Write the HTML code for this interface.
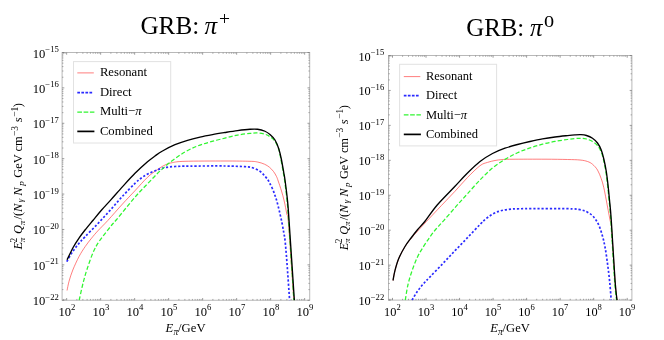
<!DOCTYPE html>
<html><head><meta charset="utf-8"><title>GRB pion spectra</title>
<style>html,body{margin:0;padding:0;background:#fff}body{width:664px;height:340px;overflow:hidden}svg{display:block;will-change:transform}text{font-family:"Liberation Serif",serif;fill:#000}</style></head><body>
<svg width="664" height="340" viewBox="0 0 664 340">
<rect width="664" height="340" fill="#fff"/>
<text x="140.4" y="33.9" font-size="25.2">GRB:</text>
<text x="204.6" y="33.9" font-size="25.2" font-style="italic">π</text>
<text x="224.4" y="25.2" font-size="19.5" text-anchor="middle">+</text>
<text x="466.2" y="35.8" font-size="24.9">GRB:</text>
<text x="530.1" y="35.8" font-size="24.9" font-style="italic">π</text>
<text transform="translate(549,27) scale(1.25,1)" font-size="16.2" text-anchor="middle">0</text>
<rect x="62.10" y="52.50" width="247.60" height="247.75" fill="none" stroke="#b8b8b8" stroke-width="1"/>
<path d="M62.10,52.50h2.2M309.70,52.50h-2.2M62.10,87.89h2.2M309.70,87.89h-2.2M62.10,123.29h2.2M309.70,123.29h-2.2M62.10,158.68h2.2M309.70,158.68h-2.2M62.10,194.07h2.2M309.70,194.07h-2.2M62.10,229.46h2.2M309.70,229.46h-2.2M62.10,264.86h2.2M309.70,264.86h-2.2M62.10,300.25h2.2M309.70,300.25h-2.2M66.65,300.25v-2.2M66.65,52.50v2.2M100.65,300.25v-2.2M100.65,52.50v2.2M134.65,300.25v-2.2M134.65,52.50v2.2M168.65,300.25v-2.2M168.65,52.50v2.2M202.65,300.25v-2.2M202.65,52.50v2.2M236.65,300.25v-2.2M236.65,52.50v2.2M270.65,300.25v-2.2M270.65,52.50v2.2M304.65,300.25v-2.2M304.65,52.50v2.2" stroke="#707070" stroke-width="0.7" fill="none"/>
<path d="M62.10,77.24h1.3M309.70,77.24h-1.3M62.10,71.01h1.3M309.70,71.01h-1.3M62.10,66.58h1.3M309.70,66.58h-1.3M62.10,63.15h1.3M309.70,63.15h-1.3M62.10,60.35h1.3M309.70,60.35h-1.3M62.10,57.98h1.3M309.70,57.98h-1.3M62.10,55.93h1.3M309.70,55.93h-1.3M62.10,54.12h1.3M309.70,54.12h-1.3M62.10,112.63h1.3M309.70,112.63h-1.3M62.10,106.40h1.3M309.70,106.40h-1.3M62.10,101.98h1.3M309.70,101.98h-1.3M62.10,98.55h1.3M309.70,98.55h-1.3M62.10,95.74h1.3M309.70,95.74h-1.3M62.10,93.38h1.3M309.70,93.38h-1.3M62.10,91.32h1.3M309.70,91.32h-1.3M62.10,89.51h1.3M309.70,89.51h-1.3M62.10,148.02h1.3M309.70,148.02h-1.3M62.10,141.79h1.3M309.70,141.79h-1.3M62.10,137.37h1.3M309.70,137.37h-1.3M62.10,133.94h1.3M309.70,133.94h-1.3M62.10,131.14h1.3M309.70,131.14h-1.3M62.10,128.77h1.3M309.70,128.77h-1.3M62.10,126.72h1.3M309.70,126.72h-1.3M62.10,124.91h1.3M309.70,124.91h-1.3M62.10,183.42h1.3M309.70,183.42h-1.3M62.10,177.18h1.3M309.70,177.18h-1.3M62.10,172.76h1.3M309.70,172.76h-1.3M62.10,169.33h1.3M309.70,169.33h-1.3M62.10,166.53h1.3M309.70,166.53h-1.3M62.10,164.16h1.3M309.70,164.16h-1.3M62.10,162.11h1.3M309.70,162.11h-1.3M62.10,160.30h1.3M309.70,160.30h-1.3M62.10,218.81h1.3M309.70,218.81h-1.3M62.10,212.58h1.3M309.70,212.58h-1.3M62.10,208.16h1.3M309.70,208.16h-1.3M62.10,204.73h1.3M309.70,204.73h-1.3M62.10,201.92h1.3M309.70,201.92h-1.3M62.10,199.55h1.3M309.70,199.55h-1.3M62.10,197.50h1.3M309.70,197.50h-1.3M62.10,195.69h1.3M309.70,195.69h-1.3M62.10,254.20h1.3M309.70,254.20h-1.3M62.10,247.97h1.3M309.70,247.97h-1.3M62.10,243.55h1.3M309.70,243.55h-1.3M62.10,240.12h1.3M309.70,240.12h-1.3M62.10,237.32h1.3M309.70,237.32h-1.3M62.10,234.95h1.3M309.70,234.95h-1.3M62.10,232.89h1.3M309.70,232.89h-1.3M62.10,231.08h1.3M309.70,231.08h-1.3M62.10,289.60h1.3M309.70,289.60h-1.3M62.10,283.36h1.3M309.70,283.36h-1.3M62.10,278.94h1.3M309.70,278.94h-1.3M62.10,275.51h1.3M309.70,275.51h-1.3M62.10,272.71h1.3M309.70,272.71h-1.3M62.10,270.34h1.3M309.70,270.34h-1.3M62.10,268.29h1.3M309.70,268.29h-1.3M62.10,266.48h1.3M309.70,266.48h-1.3M63.36,300.25v-1.3M63.36,52.50v1.3M65.09,300.25v-1.3M65.09,52.50v1.3M76.89,300.25v-1.3M76.89,52.50v1.3M82.87,300.25v-1.3M82.87,52.50v1.3M87.12,300.25v-1.3M87.12,52.50v1.3M90.41,300.25v-1.3M90.41,52.50v1.3M93.11,300.25v-1.3M93.11,52.50v1.3M95.38,300.25v-1.3M95.38,52.50v1.3M97.36,300.25v-1.3M97.36,52.50v1.3M99.09,300.25v-1.3M99.09,52.50v1.3M110.89,300.25v-1.3M110.89,52.50v1.3M116.87,300.25v-1.3M116.87,52.50v1.3M121.12,300.25v-1.3M121.12,52.50v1.3M124.41,300.25v-1.3M124.41,52.50v1.3M127.11,300.25v-1.3M127.11,52.50v1.3M129.38,300.25v-1.3M129.38,52.50v1.3M131.36,300.25v-1.3M131.36,52.50v1.3M133.09,300.25v-1.3M133.09,52.50v1.3M144.89,300.25v-1.3M144.89,52.50v1.3M150.87,300.25v-1.3M150.87,52.50v1.3M155.12,300.25v-1.3M155.12,52.50v1.3M158.41,300.25v-1.3M158.41,52.50v1.3M161.11,300.25v-1.3M161.11,52.50v1.3M163.38,300.25v-1.3M163.38,52.50v1.3M165.36,300.25v-1.3M165.36,52.50v1.3M167.09,300.25v-1.3M167.09,52.50v1.3M178.89,300.25v-1.3M178.89,52.50v1.3M184.87,300.25v-1.3M184.87,52.50v1.3M189.12,300.25v-1.3M189.12,52.50v1.3M192.41,300.25v-1.3M192.41,52.50v1.3M195.11,300.25v-1.3M195.11,52.50v1.3M197.38,300.25v-1.3M197.38,52.50v1.3M199.36,300.25v-1.3M199.36,52.50v1.3M201.09,300.25v-1.3M201.09,52.50v1.3M212.89,300.25v-1.3M212.89,52.50v1.3M218.87,300.25v-1.3M218.87,52.50v1.3M223.12,300.25v-1.3M223.12,52.50v1.3M226.41,300.25v-1.3M226.41,52.50v1.3M229.11,300.25v-1.3M229.11,52.50v1.3M231.38,300.25v-1.3M231.38,52.50v1.3M233.36,300.25v-1.3M233.36,52.50v1.3M235.09,300.25v-1.3M235.09,52.50v1.3M246.89,300.25v-1.3M246.89,52.50v1.3M252.87,300.25v-1.3M252.87,52.50v1.3M257.12,300.25v-1.3M257.12,52.50v1.3M260.41,300.25v-1.3M260.41,52.50v1.3M263.11,300.25v-1.3M263.11,52.50v1.3M265.38,300.25v-1.3M265.38,52.50v1.3M267.36,300.25v-1.3M267.36,52.50v1.3M269.09,300.25v-1.3M269.09,52.50v1.3M280.89,300.25v-1.3M280.89,52.50v1.3M286.87,300.25v-1.3M286.87,52.50v1.3M291.12,300.25v-1.3M291.12,52.50v1.3M294.41,300.25v-1.3M294.41,52.50v1.3M297.11,300.25v-1.3M297.11,52.50v1.3M299.38,300.25v-1.3M299.38,52.50v1.3M301.36,300.25v-1.3M301.36,52.50v1.3M303.09,300.25v-1.3M303.09,52.50v1.3" stroke="#707070" stroke-width="0.6" fill="none"/>
<rect x="73.50" y="61.60" width="97.20" height="81.40" fill="#fff" stroke="#e2e2e2" stroke-width="1"/>
<line x1="77.30" y1="72.90" x2="93.80" y2="72.90" stroke="#ff4646" stroke-width="0.7"/>
<text x="99.90" y="76.10" font-size="12.70">Resonant</text>
<line x1="77.30" y1="92.60" x2="92.20" y2="92.60" stroke="#2a2aff" stroke-width="1.7" stroke-dasharray="2.7 1.35"/>
<text x="99.90" y="95.80" font-size="12.70">Direct</text>
<line x1="77.30" y1="112.10" x2="94.40" y2="112.10" stroke="#30f530" stroke-width="1.4" stroke-dasharray="4.7 1.6"/>
<text x="99.90" y="115.30" font-size="12.70">Multi−<tspan font-style='italic'>π</tspan></text>
<line x1="77.30" y1="131.40" x2="94.40" y2="131.40" stroke="#000" stroke-width="1.7"/>
<text x="99.90" y="134.60" font-size="12.70">Combined</text>
<clipPath id="cl"><rect x="62.10" y="52.50" width="247.60" height="248.05"/></clipPath>
<g clip-path="url(#cl)" fill="none" stroke-linejoin="round">
<path d="M67.05,290.50 C67.38,288.96 68.09,284.67 69.05,281.25 C70.01,277.83 71.13,274.12 72.80,270.00 C74.47,265.88 76.97,260.43 79.05,256.50 C81.13,252.57 83.22,249.45 85.30,246.40 C87.38,243.35 89.47,240.78 91.55,238.20 C93.63,235.62 95.09,233.85 97.80,230.90 C100.51,227.95 103.68,224.98 107.80,220.50 C111.92,216.02 117.97,208.97 122.50,204.00 C127.03,199.03 130.83,195.15 135.00,190.70 C139.17,186.25 143.75,180.83 147.50,177.30 C151.25,173.77 154.58,171.55 157.50,169.50 C160.42,167.45 162.50,166.15 165.00,165.00 C167.50,163.85 169.17,163.22 172.50,162.60 C175.83,161.98 176.25,161.57 185.00,161.30 C193.75,161.03 214.17,161.00 225.00,161.00 C235.83,161.00 244.58,161.13 250.00,161.30 C255.42,161.47 255.08,161.52 257.50,162.00 C259.92,162.48 262.50,163.32 264.50,164.20 C266.50,165.08 268.00,166.08 269.50,167.30 C271.00,168.52 272.33,169.97 273.50,171.50 C274.67,173.03 275.72,174.92 276.50,176.50 C277.28,178.08 277.37,178.58 278.20,181.00 C279.03,183.42 280.50,187.67 281.50,191.00 C282.50,194.33 283.32,197.17 284.20,201.00 C285.08,204.83 286.08,210.17 286.80,214.00 C287.52,217.83 287.33,209.62 288.50,224.00 C289.67,238.38 292.92,287.54 293.80,300.25" stroke="#ff4646" stroke-width="0.7"/>
<path d="M66.75,261.60 C67.71,259.98 70.50,254.90 72.50,251.90 C74.50,248.90 76.67,246.12 78.75,243.60 C80.83,241.08 81.88,240.07 85.00,236.80 C88.12,233.53 93.33,228.40 97.50,224.00 C101.67,219.60 105.83,215.03 110.00,210.40 C114.17,205.78 118.33,200.77 122.50,196.25 C126.67,191.73 131.75,186.43 135.00,183.30 C138.25,180.18 139.71,179.13 142.00,177.50 C144.29,175.87 146.17,174.78 148.75,173.50 C151.33,172.22 154.79,170.78 157.50,169.80 C160.21,168.82 162.08,168.15 165.00,167.60 C167.92,167.05 170.83,166.75 175.00,166.50 C179.17,166.25 181.67,166.18 190.00,166.10 C198.33,166.02 215.83,165.90 225.00,166.00 C234.17,166.10 240.42,166.41 245.00,166.70 C249.58,166.99 250.00,166.99 252.50,167.75 C255.00,168.51 257.92,169.83 260.00,171.25 C262.08,172.67 263.67,174.79 265.00,176.25 C266.33,177.71 267.17,178.75 268.00,180.00 C268.83,181.25 269.17,182.08 270.00,183.75 C270.83,185.42 272.17,188.04 273.00,190.00 C273.83,191.96 274.35,193.62 275.00,195.50 C275.65,197.38 276.17,198.67 276.90,201.30 C277.63,203.93 278.57,207.77 279.40,211.30 C280.23,214.83 281.17,218.97 281.90,222.50 C282.62,226.03 283.22,229.42 283.75,232.50 C284.28,235.58 284.58,236.08 285.10,241.00 C285.62,245.92 286.15,252.12 286.90,262.00 C287.65,271.88 289.15,293.88 289.60,300.25" stroke="#2a2aff" stroke-width="1.7" stroke-dasharray="2.2 1.9"/>
<path d="M79.20,300.25 C79.32,299.71 79.23,299.96 79.90,297.00 C80.57,294.04 81.98,287.21 83.20,282.50 C84.42,277.79 85.55,273.75 87.20,268.75 C88.85,263.75 91.08,257.08 93.10,252.50 C95.12,247.92 96.25,245.75 99.30,241.25 C102.35,236.75 108.58,229.04 111.40,225.50 C114.22,221.96 112.22,224.78 116.20,220.00 C120.18,215.22 130.03,202.88 135.30,196.80 C140.57,190.72 143.68,187.80 147.80,183.50 C151.92,179.20 155.88,174.83 160.00,171.00 C164.12,167.17 168.33,163.67 172.50,160.50 C176.67,157.33 180.83,154.42 185.00,152.00 C189.17,149.58 193.33,147.67 197.50,146.00 C201.67,144.33 205.42,143.32 210.00,142.00 C214.58,140.68 220.42,139.25 225.00,138.10 C229.58,136.95 233.33,135.88 237.50,135.10 C241.67,134.32 246.67,133.75 250.00,133.40 C253.33,133.05 255.00,132.86 257.50,133.00 C260.00,133.14 262.92,133.62 265.00,134.25 C267.08,134.88 268.33,135.58 270.00,136.75 C271.67,137.92 273.54,139.21 275.00,141.25 C276.46,143.29 277.78,146.08 278.75,149.00 C279.72,151.92 280.04,154.83 280.80,158.75 C281.56,162.67 282.68,168.96 283.30,172.50 C283.93,176.04 283.93,175.42 284.55,180.00 C285.17,184.58 286.33,193.33 287.00,200.00 C287.67,206.67 287.40,203.29 288.55,220.00 C289.70,236.71 293.01,286.88 293.90,300.25" stroke="#30f530" stroke-width="1.25" stroke-dasharray="4.2 2.1"/>
<path d="M67.10,259.80 C68.10,257.75 71.06,251.20 73.10,247.50 C75.14,243.80 77.27,240.63 79.35,237.60 C81.43,234.57 83.31,232.20 85.60,229.30 C87.89,226.40 90.43,223.42 93.10,220.20 C95.77,216.98 98.68,213.35 101.60,210.00 C104.52,206.65 107.07,204.03 110.60,200.10 C114.13,196.17 118.73,190.87 122.80,186.40 C126.87,181.93 130.88,177.40 135.00,173.30 C139.12,169.20 144.17,164.68 147.50,161.80 C150.83,158.92 152.50,157.80 155.00,156.00 C157.50,154.20 159.17,152.88 162.50,151.00 C165.83,149.12 170.83,146.48 175.00,144.70 C179.17,142.92 183.33,141.57 187.50,140.30 C191.67,139.03 195.83,138.05 200.00,137.10 C204.17,136.15 208.33,135.37 212.50,134.60 C216.67,133.83 220.83,133.17 225.00,132.50 C229.17,131.83 233.33,131.14 237.50,130.60 C241.67,130.06 246.67,129.47 250.00,129.25 C253.33,129.03 255.00,128.92 257.50,129.25 C260.00,129.58 262.92,130.38 265.00,131.25 C267.08,132.12 268.33,133.04 270.00,134.50 C271.67,135.96 273.54,137.62 275.00,140.00 C276.46,142.38 277.71,145.62 278.75,148.75 C279.79,151.88 280.42,154.79 281.25,158.75 C282.08,162.71 283.12,168.96 283.75,172.50 C284.38,176.04 284.38,175.42 285.00,180.00 C285.62,184.58 286.78,193.33 287.45,200.00 C288.12,206.67 287.85,203.29 289.00,220.00 C290.15,236.71 293.46,286.88 294.35,300.25" stroke="#000" stroke-width="1.35"/>
</g>
<text x="58.90" y="57.50" font-size="12.60" text-anchor="end">10<tspan font-size="8.70" dy="-5.54">−15</tspan></text>
<text x="58.90" y="92.89" font-size="12.60" text-anchor="end">10<tspan font-size="8.70" dy="-5.54">−16</tspan></text>
<text x="58.90" y="128.29" font-size="12.60" text-anchor="end">10<tspan font-size="8.70" dy="-5.54">−17</tspan></text>
<text x="58.90" y="163.68" font-size="12.60" text-anchor="end">10<tspan font-size="8.70" dy="-5.54">−18</tspan></text>
<text x="58.90" y="199.07" font-size="12.60" text-anchor="end">10<tspan font-size="8.70" dy="-5.54">−19</tspan></text>
<text x="58.90" y="234.46" font-size="12.60" text-anchor="end">10<tspan font-size="8.70" dy="-5.54">−20</tspan></text>
<text x="58.90" y="269.86" font-size="12.60" text-anchor="end">10<tspan font-size="8.70" dy="-5.54">−21</tspan></text>
<text x="58.90" y="305.25" font-size="12.60" text-anchor="end">10<tspan font-size="8.70" dy="-5.54">−22</tspan></text>
<text x="66.95" y="316.00" font-size="12.60" text-anchor="middle">10<tspan font-size="8.70" dy="-5.54">2</tspan></text>
<text x="100.95" y="316.00" font-size="12.60" text-anchor="middle">10<tspan font-size="8.70" dy="-5.54">3</tspan></text>
<text x="134.95" y="316.00" font-size="12.60" text-anchor="middle">10<tspan font-size="8.70" dy="-5.54">4</tspan></text>
<text x="168.95" y="316.00" font-size="12.60" text-anchor="middle">10<tspan font-size="8.70" dy="-5.54">5</tspan></text>
<text x="202.95" y="316.00" font-size="12.60" text-anchor="middle">10<tspan font-size="8.70" dy="-5.54">6</tspan></text>
<text x="236.95" y="316.00" font-size="12.60" text-anchor="middle">10<tspan font-size="8.70" dy="-5.54">7</tspan></text>
<text x="270.95" y="316.00" font-size="12.60" text-anchor="middle">10<tspan font-size="8.70" dy="-5.54">8</tspan></text>
<text x="304.95" y="316.00" font-size="12.60" text-anchor="middle">10<tspan font-size="8.70" dy="-5.54">9</tspan></text>
<rect x="388.50" y="55.50" width="243.40" height="244.60" fill="none" stroke="#b8b8b8" stroke-width="1"/>
<path d="M388.50,55.50h2.2M631.90,55.50h-2.2M388.50,90.44h2.2M631.90,90.44h-2.2M388.50,125.39h2.2M631.90,125.39h-2.2M388.50,160.33h2.2M631.90,160.33h-2.2M388.50,195.27h2.2M631.90,195.27h-2.2M388.50,230.21h2.2M631.90,230.21h-2.2M388.50,265.16h2.2M631.90,265.16h-2.2M388.50,300.10h2.2M631.90,300.10h-2.2M392.50,300.10v-2.2M392.50,55.50v2.2M426.03,300.10v-2.2M426.03,55.50v2.2M459.56,300.10v-2.2M459.56,55.50v2.2M493.09,300.10v-2.2M493.09,55.50v2.2M526.62,300.10v-2.2M526.62,55.50v2.2M560.15,300.10v-2.2M560.15,55.50v2.2M593.68,300.10v-2.2M593.68,55.50v2.2M627.21,300.10v-2.2M627.21,55.50v2.2" stroke="#707070" stroke-width="0.7" fill="none"/>
<path d="M388.50,79.92h1.3M631.90,79.92h-1.3M388.50,73.77h1.3M631.90,73.77h-1.3M388.50,69.41h1.3M631.90,69.41h-1.3M388.50,66.02h1.3M631.90,66.02h-1.3M388.50,63.25h1.3M631.90,63.25h-1.3M388.50,60.91h1.3M631.90,60.91h-1.3M388.50,58.89h1.3M631.90,58.89h-1.3M388.50,57.10h1.3M631.90,57.10h-1.3M388.50,114.87h1.3M631.90,114.87h-1.3M388.50,108.71h1.3M631.90,108.71h-1.3M388.50,104.35h1.3M631.90,104.35h-1.3M388.50,100.96h1.3M631.90,100.96h-1.3M388.50,98.19h1.3M631.90,98.19h-1.3M388.50,95.86h1.3M631.90,95.86h-1.3M388.50,93.83h1.3M631.90,93.83h-1.3M388.50,92.04h1.3M631.90,92.04h-1.3M388.50,149.81h1.3M631.90,149.81h-1.3M388.50,143.66h1.3M631.90,143.66h-1.3M388.50,139.29h1.3M631.90,139.29h-1.3M388.50,135.90h1.3M631.90,135.90h-1.3M388.50,133.14h1.3M631.90,133.14h-1.3M388.50,130.80h1.3M631.90,130.80h-1.3M388.50,128.77h1.3M631.90,128.77h-1.3M388.50,126.98h1.3M631.90,126.98h-1.3M388.50,184.75h1.3M631.90,184.75h-1.3M388.50,178.60h1.3M631.90,178.60h-1.3M388.50,174.23h1.3M631.90,174.23h-1.3M388.50,170.85h1.3M631.90,170.85h-1.3M388.50,168.08h1.3M631.90,168.08h-1.3M388.50,165.74h1.3M631.90,165.74h-1.3M388.50,163.71h1.3M631.90,163.71h-1.3M388.50,161.93h1.3M631.90,161.93h-1.3M388.50,219.70h1.3M631.90,219.70h-1.3M388.50,213.54h1.3M631.90,213.54h-1.3M388.50,209.18h1.3M631.90,209.18h-1.3M388.50,205.79h1.3M631.90,205.79h-1.3M388.50,203.02h1.3M631.90,203.02h-1.3M388.50,200.68h1.3M631.90,200.68h-1.3M388.50,198.66h1.3M631.90,198.66h-1.3M388.50,196.87h1.3M631.90,196.87h-1.3M388.50,254.64h1.3M631.90,254.64h-1.3M388.50,248.49h1.3M631.90,248.49h-1.3M388.50,244.12h1.3M631.90,244.12h-1.3M388.50,240.73h1.3M631.90,240.73h-1.3M388.50,237.97h1.3M631.90,237.97h-1.3M388.50,235.63h1.3M631.90,235.63h-1.3M388.50,233.60h1.3M631.90,233.60h-1.3M388.50,231.81h1.3M631.90,231.81h-1.3M388.50,289.58h1.3M631.90,289.58h-1.3M388.50,283.43h1.3M631.90,283.43h-1.3M388.50,279.06h1.3M631.90,279.06h-1.3M388.50,275.68h1.3M631.90,275.68h-1.3M388.50,272.91h1.3M631.90,272.91h-1.3M388.50,270.57h1.3M631.90,270.57h-1.3M388.50,268.54h1.3M631.90,268.54h-1.3M388.50,266.76h1.3M631.90,266.76h-1.3M389.25,300.10v-1.3M389.25,55.50v1.3M390.97,300.10v-1.3M390.97,55.50v1.3M402.59,300.10v-1.3M402.59,55.50v1.3M408.50,300.10v-1.3M408.50,55.50v1.3M412.69,300.10v-1.3M412.69,55.50v1.3M415.94,300.10v-1.3M415.94,55.50v1.3M418.59,300.10v-1.3M418.59,55.50v1.3M420.84,300.10v-1.3M420.84,55.50v1.3M422.78,300.10v-1.3M422.78,55.50v1.3M424.50,300.10v-1.3M424.50,55.50v1.3M436.12,300.10v-1.3M436.12,55.50v1.3M442.03,300.10v-1.3M442.03,55.50v1.3M446.22,300.10v-1.3M446.22,55.50v1.3M449.47,300.10v-1.3M449.47,55.50v1.3M452.12,300.10v-1.3M452.12,55.50v1.3M454.37,300.10v-1.3M454.37,55.50v1.3M456.31,300.10v-1.3M456.31,55.50v1.3M458.03,300.10v-1.3M458.03,55.50v1.3M469.65,300.10v-1.3M469.65,55.50v1.3M475.56,300.10v-1.3M475.56,55.50v1.3M479.75,300.10v-1.3M479.75,55.50v1.3M483.00,300.10v-1.3M483.00,55.50v1.3M485.65,300.10v-1.3M485.65,55.50v1.3M487.90,300.10v-1.3M487.90,55.50v1.3M489.84,300.10v-1.3M489.84,55.50v1.3M491.56,300.10v-1.3M491.56,55.50v1.3M503.18,300.10v-1.3M503.18,55.50v1.3M509.09,300.10v-1.3M509.09,55.50v1.3M513.28,300.10v-1.3M513.28,55.50v1.3M516.53,300.10v-1.3M516.53,55.50v1.3M519.18,300.10v-1.3M519.18,55.50v1.3M521.43,300.10v-1.3M521.43,55.50v1.3M523.37,300.10v-1.3M523.37,55.50v1.3M525.09,300.10v-1.3M525.09,55.50v1.3M536.71,300.10v-1.3M536.71,55.50v1.3M542.62,300.10v-1.3M542.62,55.50v1.3M546.81,300.10v-1.3M546.81,55.50v1.3M550.06,300.10v-1.3M550.06,55.50v1.3M552.71,300.10v-1.3M552.71,55.50v1.3M554.96,300.10v-1.3M554.96,55.50v1.3M556.90,300.10v-1.3M556.90,55.50v1.3M558.62,300.10v-1.3M558.62,55.50v1.3M570.24,300.10v-1.3M570.24,55.50v1.3M576.15,300.10v-1.3M576.15,55.50v1.3M580.34,300.10v-1.3M580.34,55.50v1.3M583.59,300.10v-1.3M583.59,55.50v1.3M586.24,300.10v-1.3M586.24,55.50v1.3M588.49,300.10v-1.3M588.49,55.50v1.3M590.43,300.10v-1.3M590.43,55.50v1.3M592.15,300.10v-1.3M592.15,55.50v1.3M603.77,300.10v-1.3M603.77,55.50v1.3M609.68,300.10v-1.3M609.68,55.50v1.3M613.87,300.10v-1.3M613.87,55.50v1.3M617.12,300.10v-1.3M617.12,55.50v1.3M619.77,300.10v-1.3M619.77,55.50v1.3M622.02,300.10v-1.3M622.02,55.50v1.3M623.96,300.10v-1.3M623.96,55.50v1.3M625.68,300.10v-1.3M625.68,55.50v1.3" stroke="#707070" stroke-width="0.6" fill="none"/>
<rect x="399.60" y="64.30" width="97.00" height="81.60" fill="#fff" stroke="#e2e2e2" stroke-width="1"/>
<line x1="403.80" y1="76.60" x2="420.30" y2="76.60" stroke="#ff4646" stroke-width="0.7"/>
<text x="425.90" y="80.20" font-size="12.50">Resonant</text>
<line x1="403.80" y1="95.70" x2="418.70" y2="95.70" stroke="#2a2aff" stroke-width="1.7" stroke-dasharray="2.7 1.35"/>
<text x="425.90" y="99.30" font-size="12.50">Direct</text>
<line x1="403.80" y1="114.90" x2="420.90" y2="114.90" stroke="#30f530" stroke-width="1.4" stroke-dasharray="4.7 1.6"/>
<text x="425.90" y="118.50" font-size="12.50">Multi−<tspan font-style='italic'>π</tspan></text>
<line x1="403.80" y1="134.40" x2="420.90" y2="134.40" stroke="#000" stroke-width="1.7"/>
<text x="425.90" y="138.00" font-size="12.50">Combined</text>
<clipPath id="cr"><rect x="388.50" y="55.50" width="243.40" height="244.90"/></clipPath>
<g clip-path="url(#cr)" fill="none" stroke-linejoin="round">
<path d="M393.00,280.50 C393.33,278.82 394.04,274.07 395.00,270.40 C395.96,266.73 397.08,262.47 398.75,258.50 C400.42,254.53 402.92,249.97 405.00,246.60 C407.08,243.23 409.17,240.87 411.25,238.30 C413.33,235.73 415.00,233.97 417.50,231.20 C420.00,228.43 422.29,225.95 426.25,221.70 C430.21,217.45 436.46,210.77 441.25,205.70 C446.04,200.62 450.62,195.95 455.00,191.25 C459.38,186.55 463.33,181.76 467.50,177.50 C471.67,173.24 476.67,168.22 480.00,165.70 C483.33,163.18 485.00,163.27 487.50,162.40 C490.00,161.53 492.58,160.97 495.00,160.50 C497.42,160.03 499.17,159.81 502.00,159.60 C504.83,159.39 504.83,159.32 512.00,159.25 C519.17,159.18 535.75,159.16 545.00,159.20 C554.25,159.24 561.67,159.37 567.50,159.50 C573.33,159.63 576.67,159.67 580.00,160.00 C583.33,160.33 585.42,160.79 587.50,161.50 C589.58,162.21 590.83,162.83 592.50,164.25 C594.17,165.67 596.04,167.58 597.50,170.00 C598.96,172.42 600.21,175.83 601.25,178.75 C602.29,181.67 602.92,183.96 603.75,187.50 C604.58,191.04 605.21,194.58 606.25,200.00 C607.29,205.42 609.12,215.33 610.00,220.00 C610.88,224.67 610.67,218.00 611.50,228.00 C612.33,238.00 614.08,267.98 615.00,280.00 C615.92,292.02 616.67,296.75 617.00,300.10" stroke="#ff4646" stroke-width="0.7"/>
<path d="M412.00,300.10 C412.92,298.62 415.58,293.93 417.50,291.20 C419.42,288.47 421.42,286.08 423.50,283.70 C425.58,281.32 426.83,280.20 430.00,276.90 C433.17,273.60 438.33,268.27 442.50,263.90 C446.67,259.53 450.83,255.07 455.00,250.70 C459.17,246.33 463.33,242.07 467.50,237.70 C471.67,233.33 476.88,227.68 480.00,224.50 C483.12,221.32 484.17,220.32 486.25,218.60 C488.33,216.88 490.42,215.40 492.50,214.20 C494.58,213.00 496.67,212.12 498.75,211.40 C500.83,210.68 502.92,210.23 505.00,209.85 C507.08,209.47 509.17,209.27 511.25,209.10 C513.33,208.93 514.38,208.87 517.50,208.80 C520.62,208.73 521.67,208.72 530.00,208.70 C538.33,208.68 559.17,208.53 567.50,208.70 C575.83,208.87 576.67,209.12 580.00,209.70 C583.33,210.28 585.21,210.98 587.50,212.20 C589.79,213.42 591.88,214.87 593.75,217.00 C595.62,219.13 597.29,221.79 598.75,225.00 C600.21,228.21 601.44,232.50 602.50,236.25 C603.56,240.00 604.23,242.71 605.10,247.50 C605.97,252.29 606.93,259.25 607.70,265.00 C608.47,270.75 609.12,276.15 609.70,282.00 C610.28,287.85 610.95,297.08 611.20,300.10" stroke="#2a2aff" stroke-width="1.7" stroke-dasharray="2.2 1.9"/>
<path d="M405.30,300.10 C405.73,297.58 406.80,289.81 407.90,285.00 C409.00,280.19 410.30,275.93 411.90,271.25 C413.50,266.57 415.52,261.07 417.50,256.90 C419.48,252.72 421.67,249.53 423.75,246.20 C425.83,242.87 427.92,239.81 430.00,236.90 C432.08,233.99 433.96,231.47 436.25,228.75 C438.54,226.03 440.42,224.36 443.75,220.60 C447.08,216.84 452.29,210.68 456.25,206.20 C460.21,201.72 463.54,198.07 467.50,193.70 C471.46,189.32 475.83,184.23 480.00,179.95 C484.17,175.67 488.33,171.43 492.50,168.00 C496.67,164.57 500.83,161.95 505.00,159.40 C509.17,156.85 513.33,154.61 517.50,152.70 C521.67,150.79 525.83,149.37 530.00,147.95 C534.17,146.53 538.33,145.29 542.50,144.20 C546.67,143.11 550.83,142.18 555.00,141.40 C559.17,140.62 564.17,139.97 567.50,139.50 C570.83,139.03 572.75,138.80 575.00,138.60 C577.25,138.40 579.08,138.23 581.00,138.30 C582.92,138.37 584.58,138.47 586.50,139.00 C588.42,139.53 590.67,140.42 592.50,141.50 C594.33,142.58 596.12,143.92 597.50,145.50 C598.88,147.08 599.83,148.79 600.80,151.00 C601.77,153.21 602.47,155.38 603.30,158.75 C604.13,162.12 605.09,166.88 605.80,171.25 C606.51,175.62 607.01,180.21 607.55,185.00 C608.09,189.79 608.51,194.17 609.05,200.00 C609.59,205.83 609.88,206.67 610.80,220.00 C611.72,233.33 613.59,266.65 614.55,280.00 C615.51,293.35 616.22,296.75 616.55,300.10" stroke="#30f530" stroke-width="1.25" stroke-dasharray="4.2 2.1"/>
<path d="M393.00,280.50 C393.33,278.82 394.04,274.07 395.00,270.40 C395.96,266.73 397.08,262.48 398.75,258.50 C400.42,254.52 402.92,249.96 405.00,246.50 C407.08,243.04 409.17,240.54 411.25,237.75 C413.33,234.96 415.21,232.50 417.50,229.75 C419.79,227.00 421.75,225.34 425.00,221.25 C428.25,217.16 432.00,211.03 437.00,205.20 C442.00,199.37 449.92,191.62 455.00,186.25 C460.08,180.88 463.33,177.12 467.50,173.00 C471.67,168.88 475.83,164.75 480.00,161.50 C484.17,158.25 488.33,155.72 492.50,153.50 C496.67,151.28 500.83,149.70 505.00,148.20 C509.17,146.70 513.33,145.62 517.50,144.50 C521.67,143.38 525.83,142.43 530.00,141.50 C534.17,140.57 538.33,139.65 542.50,138.90 C546.67,138.15 550.83,137.55 555.00,137.00 C559.17,136.45 564.17,135.95 567.50,135.60 C570.83,135.25 572.75,135.05 575.00,134.90 C577.25,134.75 579.08,134.60 581.00,134.70 C582.92,134.80 584.58,134.92 586.50,135.50 C588.42,136.08 590.67,136.95 592.50,138.20 C594.33,139.45 596.04,141.03 597.50,143.00 C598.96,144.97 600.21,147.38 601.25,150.00 C602.29,152.62 602.92,155.21 603.75,158.75 C604.58,162.29 605.54,166.88 606.25,171.25 C606.96,175.62 607.46,180.21 608.00,185.00 C608.54,189.79 608.96,194.17 609.50,200.00 C610.04,205.83 610.33,206.67 611.25,220.00 C612.17,233.33 614.04,266.65 615.00,280.00 C615.96,293.35 616.67,296.75 617.00,300.10" stroke="#000" stroke-width="1.35"/>
</g>
<text x="384.20" y="60.50" font-size="12.30" text-anchor="end">10<tspan font-size="8.60" dy="-5.41">−15</tspan></text>
<text x="384.20" y="95.44" font-size="12.30" text-anchor="end">10<tspan font-size="8.60" dy="-5.41">−16</tspan></text>
<text x="384.20" y="130.39" font-size="12.30" text-anchor="end">10<tspan font-size="8.60" dy="-5.41">−17</tspan></text>
<text x="384.20" y="165.33" font-size="12.30" text-anchor="end">10<tspan font-size="8.60" dy="-5.41">−18</tspan></text>
<text x="384.20" y="200.27" font-size="12.30" text-anchor="end">10<tspan font-size="8.60" dy="-5.41">−19</tspan></text>
<text x="384.20" y="235.21" font-size="12.30" text-anchor="end">10<tspan font-size="8.60" dy="-5.41">−20</tspan></text>
<text x="384.20" y="270.16" font-size="12.30" text-anchor="end">10<tspan font-size="8.60" dy="-5.41">−21</tspan></text>
<text x="384.20" y="305.10" font-size="12.30" text-anchor="end">10<tspan font-size="8.60" dy="-5.41">−22</tspan></text>
<text x="392.40" y="315.80" font-size="12.30" text-anchor="middle">10<tspan font-size="8.60" dy="-5.41">2</tspan></text>
<text x="425.93" y="315.80" font-size="12.30" text-anchor="middle">10<tspan font-size="8.60" dy="-5.41">3</tspan></text>
<text x="459.46" y="315.80" font-size="12.30" text-anchor="middle">10<tspan font-size="8.60" dy="-5.41">4</tspan></text>
<text x="492.99" y="315.80" font-size="12.30" text-anchor="middle">10<tspan font-size="8.60" dy="-5.41">5</tspan></text>
<text x="526.52" y="315.80" font-size="12.30" text-anchor="middle">10<tspan font-size="8.60" dy="-5.41">6</tspan></text>
<text x="560.05" y="315.80" font-size="12.30" text-anchor="middle">10<tspan font-size="8.60" dy="-5.41">7</tspan></text>
<text x="593.58" y="315.80" font-size="12.30" text-anchor="middle">10<tspan font-size="8.60" dy="-5.41">8</tspan></text>
<text x="627.11" y="315.80" font-size="12.30" text-anchor="middle">10<tspan font-size="8.60" dy="-5.41">9</tspan></text>
<text x="185.60" y="332.00" font-size="12.70" text-anchor="middle"><tspan font-style="italic">E</tspan><tspan font-style="italic" font-size="9.40" dy="2.6">π</tspan><tspan dy="-2.6">/GeV</tspan></text>
<text x="510.00" y="331.90" font-size="12.60" text-anchor="middle"><tspan font-style="italic">E</tspan><tspan font-style="italic" font-size="9.32" dy="2.6">π</tspan><tspan dy="-2.6">/GeV</tspan></text>
<g transform="translate(22.20,249.60) rotate(-90)"><text x="0.00" y="0.00" font-size="12.50" font-style="italic">E</text><text x="7.30" y="2.40" font-size="9.00" font-style="italic">π</text><text x="7.00" y="-5.60" font-size="9.45">2</text><text x="15.70" y="0.00" font-size="12.50" font-style="italic">Q</text><text x="24.40" y="2.40" font-size="9.00" font-style="italic">π</text><text x="30.20" y="0.00" font-size="12.50">/(</text><text x="37.60" y="0.00" font-size="12.50" font-style="italic">N</text><text x="47.30" y="1.20" font-size="9.00" font-style="italic">γ</text><text x="53.90" y="0.00" font-size="12.50" font-style="italic">N</text><text x="63.90" y="1.60" font-size="9.00" font-style="italic">p</text><text x="71.80" y="0.00" font-size="12.50">GeV</text><text x="98.10" y="0.00" font-size="12.50">cm</text><text x="113.60" y="-4.70" font-size="9.45">−3</text><text x="127.30" y="0.00" font-size="12.50" font-style="italic">s</text><text x="132.80" y="-4.70" font-size="9.45">−1</text><text x="142.30" y="0.00" font-size="12.50">)</text></g>
<g transform="translate(348.00,250.20) rotate(-90)"><text x="0.00" y="0.00" font-size="12.30" font-style="italic">E</text><text x="7.23" y="2.38" font-size="8.86" font-style="italic">π</text><text x="6.93" y="-5.54" font-size="9.30">2</text><text x="15.54" y="0.00" font-size="12.30" font-style="italic">Q</text><text x="24.16" y="2.38" font-size="8.86" font-style="italic">π</text><text x="29.90" y="0.00" font-size="12.30">/(</text><text x="37.22" y="0.00" font-size="12.30" font-style="italic">N</text><text x="46.83" y="1.19" font-size="8.86" font-style="italic">γ</text><text x="53.36" y="0.00" font-size="12.30" font-style="italic">N</text><text x="63.26" y="1.58" font-size="8.86" font-style="italic">p</text><text x="71.08" y="0.00" font-size="12.30">GeV</text><text x="97.12" y="0.00" font-size="12.30">cm</text><text x="112.46" y="-4.65" font-size="9.30">−3</text><text x="126.03" y="0.00" font-size="12.30" font-style="italic">s</text><text x="131.47" y="-4.65" font-size="9.30">−1</text><text x="140.88" y="0.00" font-size="12.30">)</text></g>
</svg></body></html>
